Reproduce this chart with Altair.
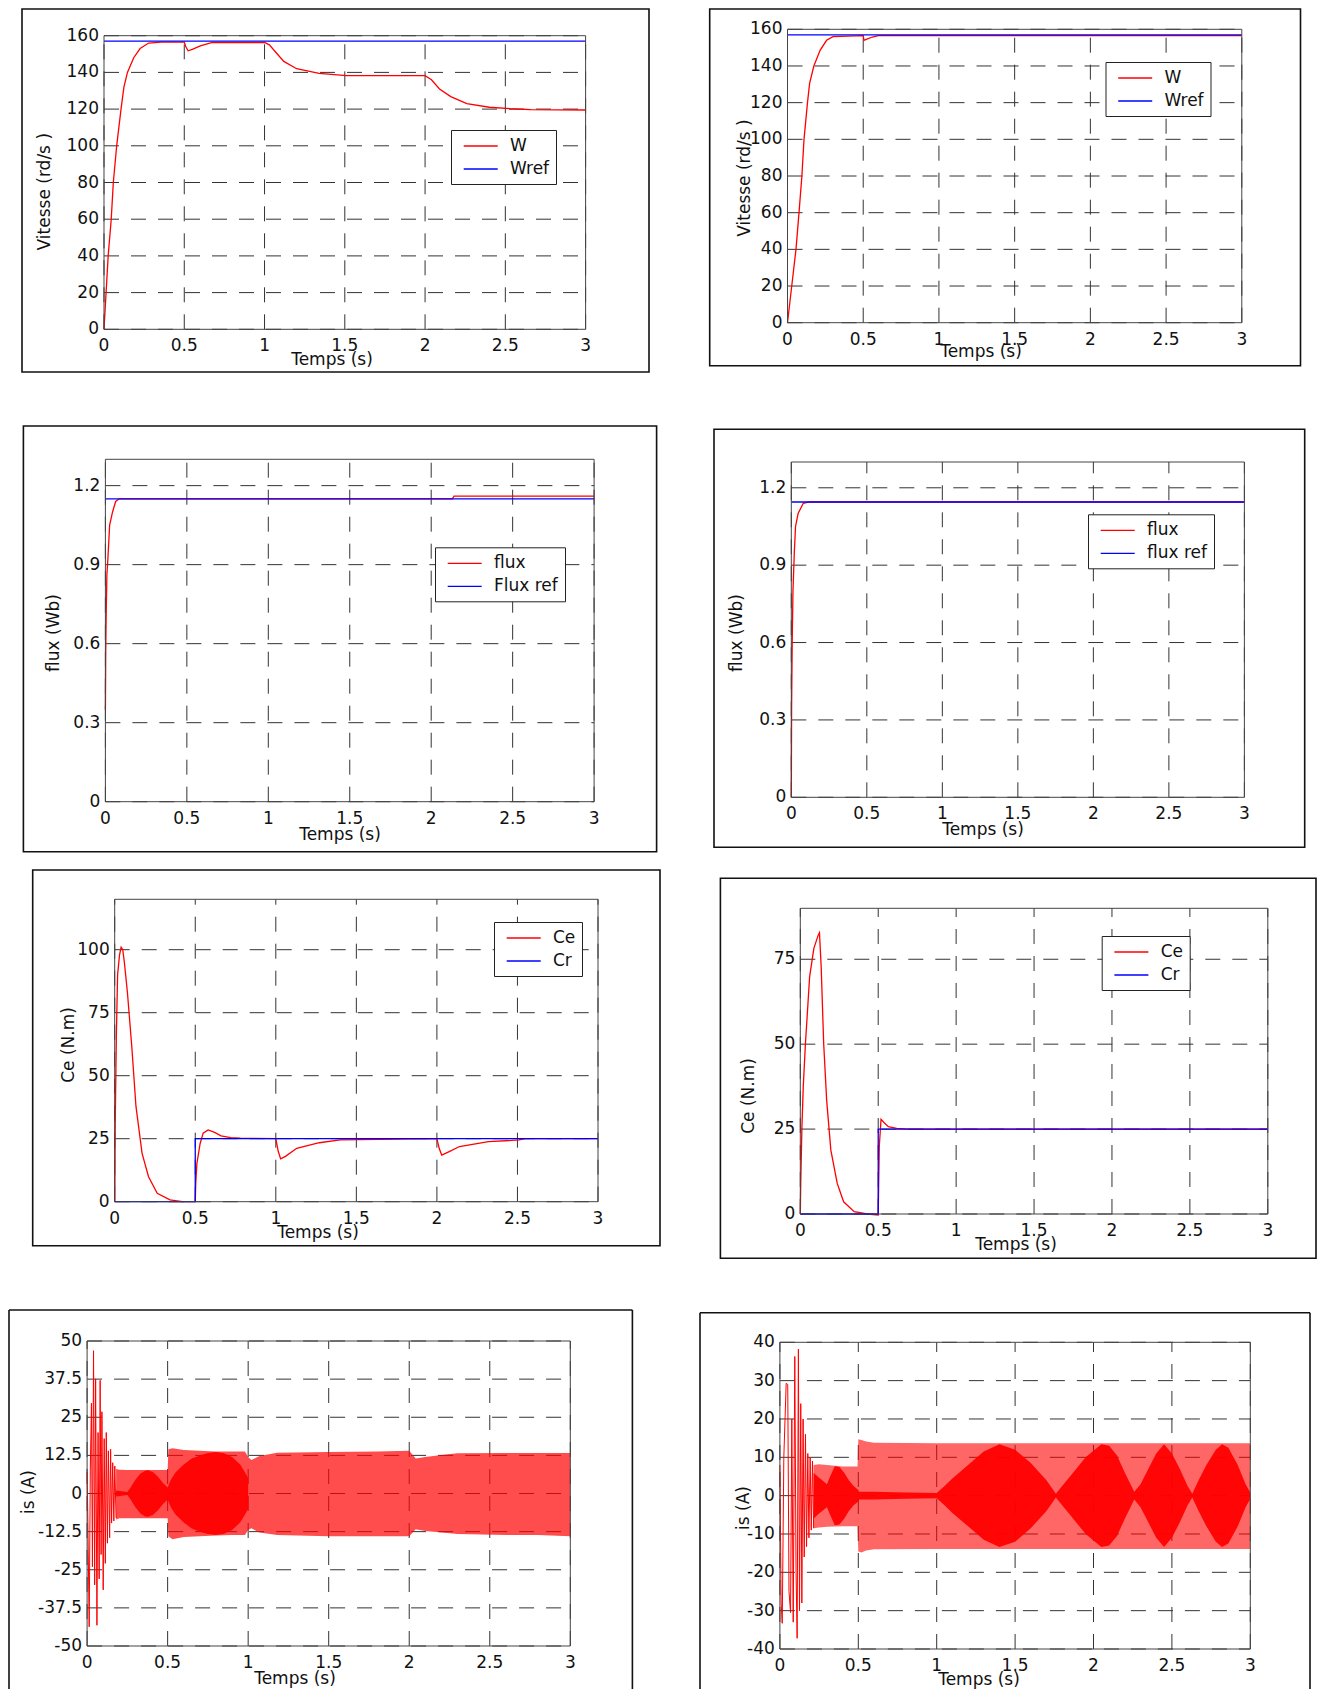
import altair as alt
import pandas as pd

FONT = "DejaVu Sans"
RED = "#ff0000"
BLUE = "#0000ff"
INK = "#111111"
GRID_COLOR = "#333333"
GRID_DASH = [15, 12]
BOX_COLOR = "#444444"
FRAME_COLOR = "#111111"
FS = 17
CELL_W = 655
PAD_CHAR = "\u2002"

XTITLE = "Temps (s)"
T_TICKS = [0, 0.5, 1, 1.5, 2, 2.5, 3]
T_LABELS = ["0", "0.5", "1", "1.5", "2", "2.5", "3"]
Y_SPEED = [0, 20, 40, 60, 80, 100, 120, 140, 160]
Y_SPEED_LBL = ["0", "20", "40", "60", "80", "100", "120", "140", "160"]
Y_FLUX = [0, 0.3, 0.6, 0.9, 1.2]
Y_FLUX_LBL = ["0", "0.3", "0.6", "0.9", "1.2"]
Y_CE5 = [0, 25, 50, 75, 100]
Y_CE5_LBL = ["0", "25", "50", "75", "100"]
Y_CE6 = [0, 25, 50, 75]
Y_CE6_LBL = ["0", "25", "50", "75"]
Y_IS7 = [-50, -37.5, -25, -12.5, 0, 12.5, 25, 37.5, 50]
Y_IS7_LBL = ["-50", "-37.5", "-25", "-12.5", "0", "12.5", "25", "37.5", "50"]
Y_IS8 = [-40, -30, -20, -10, 0, 10, 20, 30, 40]
Y_IS8_LBL = ["-40", "-30", "-20", "-10", "0", "10", "20", "30", "40"]

# ---------------- Vitesse (left) ----------------
W1_T = [0, 0.013, 0.026, 0.045, 0.058, 0.079, 0.106, 0.124, 0.146, 0.185, 0.225, 0.278, 0.357, 0.5, 0.51,
        0.524, 0.55, 0.6, 0.675, 1.0, 1.03, 1.07, 1.12, 1.2, 1.34, 1.51, 2.0, 2.04, 2.09, 2.16, 2.26, 2.4,
        2.53, 2.66, 3.0]
W1_V = [0, 20, 40, 60, 80, 100, 120, 132, 140, 148, 153, 156, 156.5, 156.5, 154, 151.8, 152.5, 154.5, 156.3,
        156.3, 155, 151, 146, 142, 139.5, 138.2, 138.2, 136, 131, 126.8, 123, 121, 120.2, 119.7, 119.5]
WREF1_T = [0, 3]
WREF1_V = [157, 157]

# ---------------- Vitesse (right) ----------------
W2_T = [0, 0.028, 0.056, 0.076, 0.095, 0.109, 0.132, 0.146, 0.174, 0.216, 0.258, 0.3, 0.5, 0.505, 0.52,
        0.56, 0.6, 3.0]
W2_V = [0, 20, 40, 60, 80, 100, 120, 130.5, 140, 148.7, 154, 156, 156.5, 154, 154.5, 155.8, 156.5, 156.5]
WREF2_T = [0, 3]
WREF2_V = [157, 157]

# ---------------- Flux (left) ----------------
F3_T = [0, 0.002, 0.005, 0.009, 0.016, 0.026, 0.044, 0.063, 0.085, 2.13, 2.14, 3.0]
F3_V = [0.35, 0.57, 0.72, 0.86, 0.93, 1.05, 1.1, 1.14, 1.15, 1.15, 1.16, 1.16]
FREF3_T = [0, 3]
FREF3_V = [1.15, 1.15]

# ---------------- Flux (right) ----------------
F4_T = [0, 0.002, 0.006, 0.011, 0.02, 0.028, 0.045, 0.079, 0.12, 3.0]
F4_V = [0, 0.35, 0.6, 0.8, 0.95, 1.05, 1.1, 1.14, 1.145, 1.145]
FREF4_T = [0, 3]
FREF4_V = [1.145, 1.145]

# ---------------- Couple (left) ----------------
CE5_T = [0, 0.003, 0.01, 0.018, 0.03, 0.04, 0.05, 0.06, 0.079, 0.106, 0.132, 0.17, 0.21, 0.264, 0.343, 0.42,
         0.5, 0.503, 0.51, 0.53, 0.549, 0.58, 0.62, 0.66, 0.72, 0.78, 1.0, 1.015, 1.03, 1.06, 1.13, 1.27, 1.4,
         2.0, 2.015, 2.03, 2.08, 2.14, 2.32, 2.51, 2.55, 3.0]
CE5_V = [0, 30, 65, 90, 98, 101, 100, 95, 83, 61.6, 37.8, 19.2, 9.9, 3.3, 0.7, 0, 0, 7, 15, 23, 27.2, 28.5,
         27.5, 26.1, 25.4, 25.2, 25, 20, 17, 18, 21.2, 23.4, 24.5, 25, 21, 18.5, 20, 21.9, 23.8, 24.5, 25, 25]
CR5_T = [0, 0.5, 0.5, 3.0]
CR5_V = [0, 0, 25, 25]

# ---------------- Couple (right) ----------------
CE6_T = [0, 0.003, 0.01, 0.019, 0.033, 0.06, 0.087, 0.115, 0.123, 0.134, 0.15, 0.169, 0.196, 0.237, 0.278,
         0.346, 0.43, 0.5, 0.503, 0.507, 0.518, 0.54, 0.565, 0.619, 0.7, 3.0]
CE6_V = [0, 9.5, 25, 37.5, 50.2, 69.9, 78.2, 82.1, 82.8, 72.8, 50.2, 33.6, 18.8, 9, 3.6, 0.7, 0, -0.3, 9, 20,
         27.9, 26.8, 25.7, 25.2, 25, 25]
CR6_T = [0, 0.5, 0.5, 3.0]
CR6_V = [0, 0, 25, 25]

# ---------------- Courant (left) ----------------
IS7_T = [0, 0.005, 0.013, 0.02, 0.027, 0.033, 0.04, 0.047, 0.053, 0.061, 0.068, 0.075, 0.081, 0.087, 0.092,
         0.1, 0.106, 0.113, 0.119, 0.126, 0.132, 0.14, 0.146, 0.152, 0.159, 0.166, 0.172, 0.18]
IS7_V = [7, -10, -43.7, 8, 29.6, -24, 46.8, -30, 37.6, -43.2, 20, -28, 37.1, -20, 26.8, -31.6, 18, -22.9,
         20, -16.3, 14, -14.5, 14.5, -9.7, 10.1, -9, 9, -8]
B7_T = [0.18, 0.2, 0.25, 0.3, 0.4, 0.5, 0.505, 0.53, 0.6, 0.7, 0.8, 0.9, 0.98, 1.0, 1.02, 1.07, 1.18, 1.5,
        1.8, 2.0, 2.04, 2.1, 2.2, 2.3, 2.6, 2.8, 3.0]
B7_HI = [8, 7.8, 7.7, 7.7, 7.7, 7.7, 14.5, 14.8, 14.3, 14, 13.8, 13.8, 13.8, 12, 11, 12.3, 13.4, 13.6, 13.8,
         14, 11.5, 12, 12.6, 13.2, 13.3, 13.3, 13.3]
B7_LO = [-8.5, -8.1, -8.1, -8.1, -8.1, -8.1, -14, -15, -14.3, -14, -13.8, -13.6, -13.6, -12, -11.4, -12.8,
         -13.6, -14, -14, -14, -11.7, -12.3, -12.8, -13.3, -13.6, -13.6, -14]
L7_T = [0.18, 0.25, 0.27, 0.3, 0.33, 0.36, 0.38, 0.41, 0.44, 0.47, 0.5, 0.52, 0.55, 0.6, 0.65, 0.7, 0.75,
        0.8, 0.85, 0.9, 0.95, 0.98, 1.0]
L7_A = [1, 0.5, 2, 4.5, 6.5, 7.5, 7.6, 7, 5.5, 3.5, 2, 4.5, 7, 9.5, 11.5, 12.5, 13.3, 13.6, 13.2, 12, 9.5,
        7, 5]

# ---------------- Courant (right) ----------------
IS8_T = [0, 0.008, 0.015, 0.025, 0.04, 0.05, 0.058, 0.068, 0.076, 0.085, 0.095, 0.103, 0.11, 0.118, 0.125,
         0.133, 0.14, 0.148, 0.155, 0.163, 0.17, 0.178, 0.185, 0.193, 0.2, 0.208, 0.215]
IS8_V = [8, -28, -33.3, 10, 29.3, 29, -25, -30.5, 20, -33, 36.3, -20, -37.2, 38.2, -30, 24, -28, 20, -16, 16,
         -13.3, 11, -11, 10, -9, 9, -8.5]
B8_T = [0.215, 0.25, 0.3, 0.4, 0.495, 0.5, 0.52, 0.55, 0.6, 1.0, 2.0, 3.0]
B8_HI = [8, 8.2, 8, 7.6, 7.6, 14.7, 14.5, 14.1, 13.8, 13.7, 13.7, 13.7]
B8_LO = [-8.5, -8.3, -8.1, -8, -8, -14.6, -14.8, -14.3, -14, -13.9, -13.9, -13.9]
L8_T = [0.215, 0.24, 0.27, 0.3, 0.32, 0.35, 0.38, 0.41, 0.44, 0.47, 0.5, 0.505, 0.6, 0.8, 1.0, 1.05, 1.1,
        1.2, 1.3, 1.4, 1.5, 1.6, 1.7, 1.76, 1.8, 1.85, 1.95, 2.05, 2.1, 2.15, 2.2, 2.26, 2.3, 2.35, 2.4, 2.45,
        2.5, 2.55, 2.6, 2.63, 2.67, 2.72, 2.78, 2.82, 2.86, 2.92, 2.97, 3.0]
L8_A = [6, 5, 4, 3, 5, 7.7, 7.5, 6, 4, 2.5, 1.5, 1, 1, 0.8, 0.7, 2.5, 4.5, 8, 11.5, 13.4, 12, 8.5, 4, 0.5,
        2.5, 5, 10, 13.4, 13, 10.5, 6, 1, 3, 7, 11, 13.4, 11, 7, 2.5, 0.5, 4, 8, 12, 13.4, 12.5, 8, 3, 0.8]

ONE = pd.DataFrame({"k": [0]})


def series_df(t, v, name):
    return pd.DataFrame({"t": t, "v": v, "s": name, "i": list(range(len(t)))})


def tick_df(vals, labs):
    return pd.DataFrame({"v": vals, "lab": labs})


def make_scales(g):
    xs = alt.Scale(domain=[0, 3], range=[g["px0"], g["px1"]], nice=False, zero=False)
    ys = alt.Scale(domain=[g["ymin"], g["ymax"]], range=[g["py1"], g["py0"]], nice=False, zero=False)
    return xs, ys


def xq(field, xs):
    return alt.X(field, type="quantitative", scale=xs, axis=None)


def yq(field, ys):
    return alt.Y(field, type="quantitative", scale=ys, axis=None)


def xd(val, xs):
    return alt.X(datum=val, type="quantitative", scale=xs, axis=None)


def yd(val, ys):
    return alt.Y(datum=val, type="quantitative", scale=ys, axis=None)


def frame_layers(g):
    x0, y0, x1, y1 = g["frame"]
    if g.get("open_bottom"):
        base = alt.Chart(ONE).mark_rule(color=FRAME_COLOR, strokeWidth=1.6)
        return [
            base.encode(x=alt.value(x0), y=alt.value(y0), y2=alt.value(y1)),
            base.encode(x=alt.value(x0), x2=alt.value(x1), y=alt.value(y0)),
            base.encode(x=alt.value(x1), y=alt.value(y0), y2=alt.value(y1)),
        ]
    return [alt.Chart(ONE).mark_rect(fillOpacity=0, stroke=FRAME_COLOR, strokeWidth=1.6).encode(
        x=alt.value(x0), x2=alt.value(x1), y=alt.value(y0), y2=alt.value(y1))]


def grid_layers(g, xs, ys):
    vgrid = alt.Chart(tick_df(T_TICKS, T_LABELS)).mark_rule(
        color=GRID_COLOR, strokeDash=GRID_DASH, strokeWidth=1).encode(
        x=xq("v", xs), y=yd(g["ymin"], ys), y2=alt.Y2(datum=g["ymax"]))
    hgrid = alt.Chart(tick_df(g["yticks"], g["ylabels"])).mark_rule(
        color=GRID_COLOR, strokeDash=GRID_DASH, strokeWidth=1).encode(
        y=yq("v", ys), x=xd(0, xs), x2=alt.X2(datum=3))
    return [vgrid, hgrid]


def box_layer(g, xs, ys):
    return alt.Chart(ONE).mark_rect(fillOpacity=0, stroke=BOX_COLOR, strokeWidth=1).encode(
        x=xd(0, xs), x2=alt.X2(datum=3), y=yd(g["ymin"], ys), y2=alt.Y2(datum=g["ymax"]))


def text_layers(g, xs, ys):
    common = dict(font=FONT, fontSize=FS, color=INK)
    xl = alt.Chart(tick_df(T_TICKS, T_LABELS)).mark_text(align="center", baseline="top", dy=9, **common).encode(
        x=xq("v", xs), y=yd(g["ymin"], ys), text="lab:N")
    yl = alt.Chart(tick_df(g["yticks"], g["ylabels"])).mark_text(
        align="right", baseline="middle", dx=-5, **common).encode(
        x=xd(0, xs), y=yq("v", ys), text="lab:N")
    xt = alt.Chart(ONE).mark_text(align="center", baseline="middle", **common).encode(
        x=alt.value(g["xt"][0]), y=alt.value(g["xt"][1]), text=alt.value(XTITLE))
    yt = alt.Chart(ONE).mark_text(align="center", baseline="middle", angle=270, **common).encode(
        x=alt.value(g["yt"][0]), y=alt.value(g["yt"][1]), text=alt.value(g["ytitle"]))
    return [xl, yl, xt, yt]


def line_panel(g, red_t, red_v, blue_t, blue_v, names):
    xs, ys = make_scales(g)
    lg = alt.Legend(orient="none", legendX=g["legend"][0], legendY=g["legend"][1], title=None,
                    symbolType="M-2,0H2", symbolSize=289, symbolStrokeWidth=1.3, symbolOffset=13.7,
                    labelOffset=19.8, labelFont=FONT, labelFontSize=FS, labelColor=INK, rowPadding=5,
                    padding=6.5, strokeColor="#222222", fillColor="white", cornerRadius=0,
                    labelExpr="datum.label + '" + PAD_CHAR + "'")
    col = alt.Color("s:N", scale=alt.Scale(domain=names, range=[RED, BLUE]), legend=lg)
    red = alt.Chart(series_df(red_t, red_v, names[0])).mark_line(strokeWidth=1.3).encode(
        x=xq("t", xs), y=yq("v", ys), color=col, order=alt.Order("i:Q"))
    blue = alt.Chart(series_df(blue_t, blue_v, names[1])).mark_line(strokeWidth=1.3).encode(
        x=xq("t", xs), y=yq("v", ys), color=col, order=alt.Order("i:Q"))
    layers = frame_layers(g) + grid_layers(g, xs, ys) + [red, blue, box_layer(g, xs, ys)] + text_layers(g, xs, ys)
    return alt.layer(*layers).properties(width=CELL_W, height=g["H"])


def current_panel(g, zt, zv, bt, bhi, blo, lt, la, band_opacity):
    xs, ys = make_scales(g)
    band_df = pd.DataFrame({"t": bt, "hi": bhi, "lo": blo})
    lens_df = pd.DataFrame({"t": lt, "hi": la, "lo": [-a for a in la]})
    band = alt.Chart(band_df).mark_area(color=RED, opacity=band_opacity).encode(
        x=xq("t", xs), y=yq("lo", ys), y2=alt.Y2("hi:Q"))
    lens = alt.Chart(lens_df).mark_area(color=RED, opacity=0.95).encode(
        x=xq("t", xs), y=yq("lo", ys), y2=alt.Y2("hi:Q"))
    zig = alt.Chart(series_df(zt, zv, "is")).mark_line(color=RED, strokeWidth=1).encode(
        x=xq("t", xs), y=yq("v", ys), order=alt.Order("i:Q"))
    layers = frame_layers(g) + grid_layers(g, xs, ys) + [band, lens, zig, box_layer(g, xs, ys)] + text_layers(g, xs, ys)
    return alt.layer(*layers).properties(width=CELL_W, height=g["H"])


G1 = dict(H=392, px0=96, px1=577.6, py0=27.7, py1=321.3, ymin=0, ymax=160, yticks=Y_SPEED,
          ylabels=Y_SPEED_LBL, ytitle="Vitesse (rd/s )", frame=(14, 1, 641, 364), yt=(37, 183.7),
          xt=(324, 352), legend=(443, 122))
G2 = dict(H=392, px0=124.5, px1=578.8, py0=21.3, py1=314.7, ymin=0, ymax=160, yticks=Y_SPEED,
          ylabels=Y_SPEED_LBL, ytitle="Vitesse (rd/s )", frame=(46.7, 1, 637.5, 357.7), yt=(82, 170),
          xt=(318, 344), legend=(442.5, 54))
G3 = dict(H=460, px0=97.4, px1=586.1, py0=59.3, py1=401.7, ymin=0, ymax=1.3, yticks=Y_FLUX,
          ylabels=Y_FLUX_LBL, ytitle="flux (Wb)", frame=(15.4, 26, 648.6, 451.7), yt=(46, 233),
          xt=(332, 435), legend=(427, 147.3))
G4 = dict(H=460, px0=128.3, px1=581.4, py0=62, py1=397.3, ymin=0, ymax=1.3, yticks=Y_FLUX,
          ylabels=Y_FLUX_LBL, ytitle="flux (Wb)", frame=(51, 29.3, 641.7, 447.3), yt=(73.5, 233),
          xt=(320, 430), legend=(425, 114.3))
G5 = dict(H=430, px0=106.7, px1=590, py0=39.3, py1=341.7, ymin=0, ymax=120, yticks=Y_CE5,
          ylabels=Y_CE5_LBL, ytitle="Ce (N.m)", frame=(24.7, 10, 652, 385.7), yt=(61, 185),
          xt=(310, 373), legend=(486, 62))
G6 = dict(H=430, px0=137.3, px1=604.8, py0=48.3, py1=354, ymin=0, ymax=90, yticks=Y_CE6,
          ylabels=Y_CE6_LBL, ytitle="Ce (N.m)", frame=(57.4, 18.3, 653, 398.3), yt=(85.6, 236),
          xt=(353, 385), legend=(438.7, 76))
G7 = dict(H=399, px0=79.1, px1=562.3, py0=51, py1=356, ymin=-50, ymax=50, yticks=Y_IS7,
          ylabels=Y_IS7_LBL, ytitle="is (A)", frame=(1, 20, 624.4, 399), open_bottom=True, yt=(20.7, 202),
          xt=(287, 389))
G8 = dict(H=399, px0=116.9, px1=587.3, py0=52.3, py1=359, ymin=-40, ymax=40, yticks=Y_IS8,
          ylabels=Y_IS8_LBL, ytitle="is (A)", frame=(37, 22.7, 647, 399), open_bottom=True, yt=(80.7, 218),
          xt=(316, 390))

panels = [
    line_panel(G1, W1_T, W1_V, WREF1_T, WREF1_V, ["W", "Wref"]),
    line_panel(G2, W2_T, W2_V, WREF2_T, WREF2_V, ["W", "Wref"]),
    line_panel(G3, F3_T, F3_V, FREF3_T, FREF3_V, ["flux", "Flux ref"]),
    line_panel(G4, F4_T, F4_V, FREF4_T, FREF4_V, ["flux", "flux ref"]),
    line_panel(G5, CE5_T, CE5_V, CR5_T, CR5_V, ["Ce", "Cr"]),
    line_panel(G6, CE6_T, CE6_V, CR6_T, CR6_V, ["Ce", "Cr"]),
    current_panel(G7, IS7_T, IS7_V, B7_T, B7_HI, B7_LO, L7_T, L7_A, 0.7),
    current_panel(G8, IS8_T, IS8_V, B8_T, B8_HI, B8_LO, L8_T, L8_A, 0.6),
]

chart = alt.concat(*panels, columns=2, spacing=0, bounds="flush", padding=0, background="white").resolve_scale(
    x="independent", y="independent", color="independent"
).configure_view(strokeWidth=0)

chart.save("out.html", embed_options={"renderer": "svg", "actions": False})
